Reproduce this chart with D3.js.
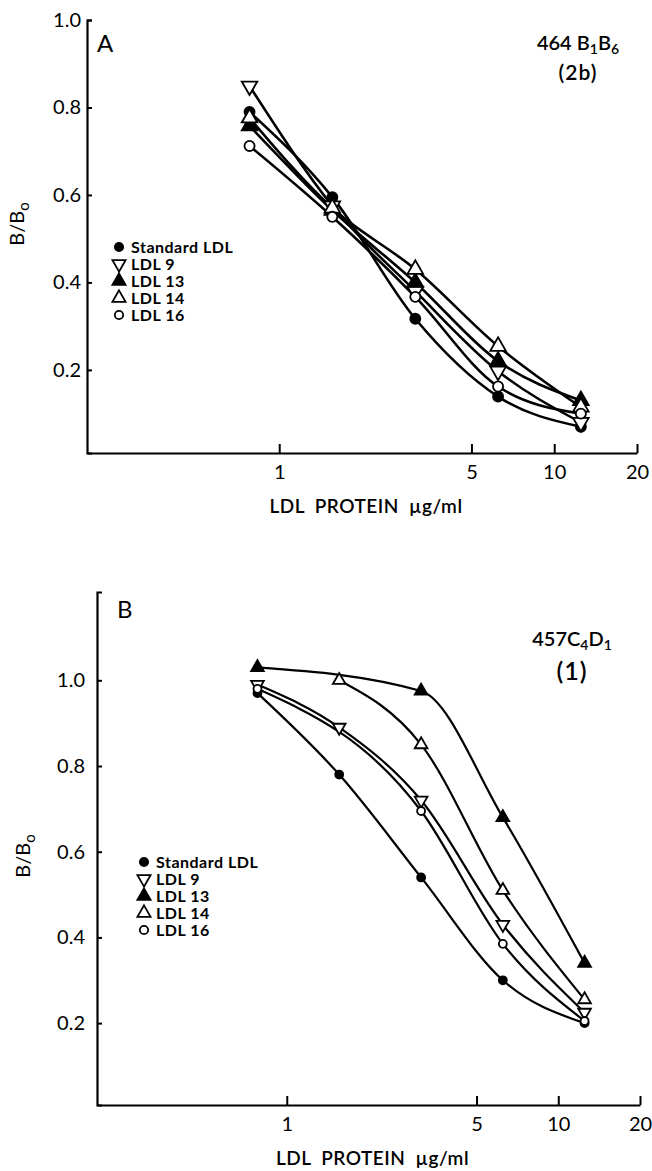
<!DOCTYPE html>
<html>
<head>
<meta charset="utf-8">
<script src="https://cdn.jsdelivr.net/npm/d3@7"></script>
<style>
  body { margin: 0; background: #fff; }
  text { font-family: Lato, "DejaVu Sans", sans-serif; fill: #000; }
</style>
</head>
<body>
<div class="box"></div>
<script>
// DATA

const conc = [0.78, 1.56, 3.125, 6.25, 12.5];   // LDL protein, ug/ml
const seriesNames = ['Standard LDL', 'LDL 9', 'LDL 13', 'LDL 14', 'LDL 16'];
const xTicks = [1, 5, 10, 20];
const yTicks = [0.2, 0.4, 0.6, 0.8, 1.0];

// panel A  (464 B1B6, 2b)
const stdA   = [0.79, 0.595, 0.317, 0.139, 0.07];
const ldl9A  = [0.849, 0.575, 0.38, 0.197, 0.08];
const ldl13A = [0.758, 0.565, 0.40, 0.22, 0.13];
const ldl14A = [0.776, 0.57, 0.43, 0.254, 0.115];
const ldl16A = [0.712, 0.55, 0.367, 0.162, 0.10];

// panel B  (457C4D1, 1)  null = no point
const stdB   = [0.97, 0.78, 0.54, 0.30, 0.20];
const ldl9B  = [0.99, 0.89, 0.72, 0.43, 0.225];
const ldl13B = [1.03, null, 0.975, 0.68, 0.34];
const ldl14B = [null, 1.0, 0.85, 0.51, 0.255];
const ldl16B = [0.98, null, 0.695, 0.385, 0.205];

// marker look for each series (same order as seriesNames)
const markers = [
  {type: d3.symbolCircle, fill: '#000', rot: 0},
  {type: d3.symbolTriangle, fill: '#fff', rot: 180},
  {type: d3.symbolTriangle, fill: '#000', rot: 0},
  {type: d3.symbolTriangle, fill: '#fff', rot: 0},
  {type: d3.symbolCircle, fill: '#fff', rot: 0}
];

// SETUP

const svg = d3.select('.box')
              .append('svg')
              .attr('width', 652)
              .attr('height', 1171);

const panels = [
  {
    values: [stdA, ldl9A, ldl13A, ldl14A, ldl16A],
    x: d3.scaleLog().domain([0.2, 20]).range([87, 637]),
    y: d3.scaleLinear().domain([0.01, 1.0]).range([453, 20]),
    letter: 'A', letterPos: [97, 52],
    title: [['464 B', '1', 'B', '6'], '(2b)'], titlePos: [578, 50],
    legendPos: [119, 247], yLabelPos: [24, 224], yPad: 6,
    lineW: 2.6, mSize: [80, 105]
  },
  {
    values: [stdB, ldl9B, ldl13B, ldl14B, ldl16B],
    x: d3.scaleLog().domain([0.2, 20]).range([97, 640]),
    y: d3.scaleLinear().domain([0.009, 1.206]).range([1105, 592]),
    letter: 'B', letterPos: [117, 618],
    title: [['457C', '4', 'D', '1'], '(1)'], titlePos: [572, 646],
    legendPos: [144, 862], yLabelPos: [30, 856], yPad: 12,
    lineW: 2.2, mSize: [50, 70]
  }
];

const symbolPath = (m, size) => d3.symbol().type(m.type).size(m.type === d3.symbolCircle ? size[0] : size[1])();

panels.forEach(p => {
  const g = svg.append('g');

  // axes, ticks point inwards
  const yAxis = d3.axisLeft(p.y)
                  .tickValues(yTicks)
                  .tickFormat(d3.format('.1f'))
                  .tickSizeInner(-5)
                  .tickSizeOuter(-5)
                  .tickPadding(p.yPad);
  g.append('g')
   .attr('transform', `translate(${p.x.range()[0]},0)`)
   .call(yAxis);

  const xAxis = d3.axisBottom(p.x)
                  .tickValues(xTicks)
                  .tickFormat(d3.format('d'))
                  .tickSizeInner(-9)
                  .tickSizeOuter(0)
                  .tickPadding(12);
  g.append('g')
   .attr('transform', `translate(0,${p.y.range()[0]})`)
   .call(xAxis);

  g.selectAll('.domain').attr('stroke-width', 2.2);
  g.selectAll('.tick line').attr('stroke-width', 2);
  g.selectAll('.tick text')
   .attr('font-size', 20)
   .attr('font-family', 'Lato, sans-serif')
   .attr('fill', '#000');

  // axis titles
  const xr = p.x.range();
  g.append('text')
   .attr('x', (xr[0] + xr[1]) / 2 + 4)
   .attr('y', p.y.range()[0] + 60)
   .attr('text-anchor', 'middle')
   .attr('font-size', 19)
   .attr('font-weight', 600)
   .attr('word-spacing', 5)
   .attr('letter-spacing', 0.5)
   .text('LDL PROTEIN µg/ml');

  const yl = g.append('text')
              .attr('transform', `translate(${p.yLabelPos[0]},${p.yLabelPos[1]}) rotate(-90)`)
              .attr('text-anchor', 'middle')
              .attr('font-size', 20);
  yl.append('tspan').text('B/B');
  yl.append('tspan').attr('dy', 5).attr('font-size', 15).text('o');

  // panel letter + antibody title
  g.append('text')
   .attr('x', p.letterPos[0]).attr('y', p.letterPos[1])
   .attr('font-size', 24)
   .text(p.letter);

  const t1 = g.append('text')
              .attr('x', p.titlePos[0]).attr('y', p.titlePos[1])
              .attr('text-anchor', 'middle')
              .attr('font-size', 20)
              .attr('font-weight', 600);
  p.title[0].forEach((s, i) => {
    t1.append('tspan')
      .attr('dy', i === 0 ? 0 : (i % 2 ? 4 : -4))
      .attr('font-size', i % 2 ? 14 : 20)
      .text(s);
  });
  g.append('text')
   .attr('x', p.titlePos[0]).attr('y', p.titlePos[1] + (p.letter === 'A' ? 30 : 34))
   .attr('text-anchor', 'middle')
   .attr('font-size', p.letter === 'A' ? 21 : 25)
   .attr('font-weight', 600)
   .attr('letter-spacing', 1)
   .text(p.title[1]);

  // curves
  const line = d3.line()
                 .x(d => p.x(d.c))
                 .y(d => p.y(d.v))
                 .curve(d3.curveMonotoneX);

  const series = p.values.map((vals, i) => ({
    name: seriesNames[i],
    pts: conc.map((c, j) => ({c: c, v: vals[j]})).filter(d => d.v !== null)
  }));

  g.selectAll('path.curve')
   .data(series)
   .enter()
   .append('path')
   .attr('class', 'curve')
   .attr('d', d => line(d.pts))
   .attr('fill', 'none')
   .attr('stroke', '#000')
   .attr('stroke-width', p.lineW);

  // markers
  series.forEach((s, i) => {
    g.selectAll(null)
     .data(s.pts)
     .enter()
     .append('path')
     .attr('d', symbolPath(markers[i], p.mSize))
     .attr('transform', d => `translate(${p.x(d.c)},${p.y(d.v)}) rotate(${markers[i].rot})`)
     .attr('fill', markers[i].fill)
     .attr('stroke', '#000')
     .attr('stroke-width', 1.8);
  });

  // legend
  const leg = g.append('g')
               .attr('transform', `translate(${p.legendPos[0]},${p.legendPos[1]})`);
  seriesNames.forEach((n, i) => {
    leg.append('path')
       .attr('d', symbolPath(markers[i], [55, 75]))
       .attr('transform', `translate(0,${i * 17}) rotate(${markers[i].rot})`)
       .attr('fill', markers[i].fill)
       .attr('stroke', '#000')
       .attr('stroke-width', 1.8);
    leg.append('text')
       .attr('x', 12)
       .attr('y', i * 17 + 5.5)
       .attr('font-size', 16)
       .attr('font-weight', 700)
       .attr('letter-spacing', 0.5)
       .text(n);
  });
});
</script>
</body>
</html>
